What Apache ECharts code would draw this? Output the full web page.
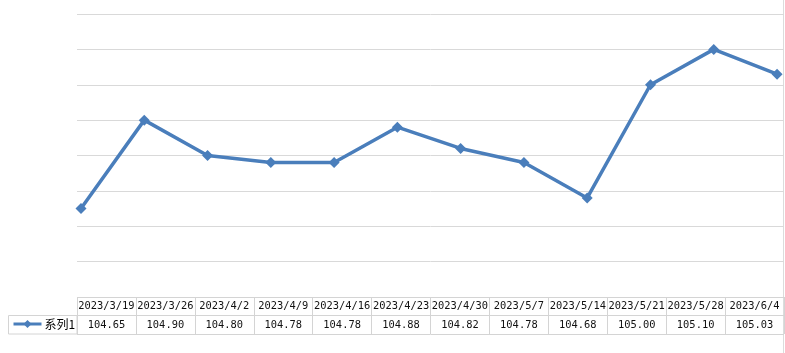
<!DOCTYPE html>
<html>
<head>
<meta charset="utf-8">
<script src="https://cdn.jsdelivr.net/npm/echarts@6/dist/echarts.min.js"></script>
<style>
html, body { margin: 0; padding: 0; background: #fff; }
#chart { width: 785px; height: 353px; }
</style>
</head>
<body>
<div id="chart"></div>
<script>
// weekly values
var dates = ['2023/3/19','2023/3/26','2023/4/2','2023/4/9','2023/4/16','2023/4/23',
             '2023/4/30','2023/5/7','2023/5/14','2023/5/21','2023/5/28','2023/6/4'];
var values = [104.65, 104.90, 104.80, 104.78, 104.78, 104.88, 104.82, 104.78, 104.68, 105.00, 105.10, 105.03];
var seriesName = '系列1';

var blue = '#4a7ebb';
var cellLine = '#d4d4d4';
var tableFont = 'DejaVu Sans Mono';

var chart = echarts.init(document.getElementById('chart'));

var points = values.map(function (v, i) { return [i, v]; });

var option = {
    animation: false,
    grid: [
        {left: 77, right: 1, top: 14, bottom: 56},
        {left: 77, right: 1, top: 297, height: 37}
    ],
    legend: {
        data: [seriesName],
        left: 12,
        top: 318,
        padding: 0,
        itemWidth: 28,
        itemHeight: 10,
        itemGap: 3,
        lineStyle: {width: 3},
        textStyle: {fontFamily: 'Noto Sans CJK SC', fontSize: 12, color: '#000', padding: [0, 0, 0, -2]}
    },
    xAxis: [
        {
            type: 'value', gridIndex: 0,
            min: -0.063, max: 11.11,
            show: false
        },
        {
            type: 'category', gridIndex: 1, position: 'top',
            data: dates, boundaryGap: true,
            axisLine: {show: false}, axisTick: {show: false},
            axisLabel: {inside: true, interval: 0, margin: 4, fontFamily: tableFont, fontSize: 10.4, color: '#111'},
            splitLine: {show: true, lineStyle: {color: cellLine, width: 1}}
        },
        {
            type: 'category', gridIndex: 1, position: 'bottom',
            data: values.map(function (v) { return v.toFixed(2); }), boundaryGap: true,
            axisLine: {show: false}, axisTick: {show: false},
            axisLabel: {inside: true, interval: 0, margin: 4, fontFamily: tableFont, fontSize: 10.4, color: '#111'},
            splitLine: {show: false}
        }
    ],
    yAxis: [
        {
            type: 'value', gridIndex: 0,
            min: 104.4, max: 105.2, interval: 0.1,
            axisLabel: {show: false}, axisLine: {show: false}, axisTick: {show: false},
            splitLine: {lineStyle: {color: '#d9d9d9', width: 1}}
        },
        {
            type: 'value', gridIndex: 1,
            min: 0, max: 2, interval: 1,
            axisLabel: {show: false}, axisLine: {show: false}, axisTick: {show: false},
            splitLine: {lineStyle: {color: cellLine, width: 1}}
        }
    ],
    series: [
        {
            name: seriesName,
            type: 'line',
            xAxisIndex: 0, yAxisIndex: 0,
            data: points,
            symbol: 'diamond',
            symbolSize: 11,
            lineStyle: {color: blue, width: 3.5},
            itemStyle: {color: blue}
        }
    ],
    graphic: [
        {
            type: 'rect', silent: true,
            shape: {x: 8.5, y: 315.5, width: 68.5, height: 18.5},
            style: {fill: 'none', stroke: cellLine, lineWidth: 1}
        },
        {
            type: 'line', silent: true,
            shape: {x1: 783.5, y1: 0, x2: 783.5, y2: 353},
            style: {stroke: '#dcdcdc', lineWidth: 1}
        }
    ]
};

chart.setOption(option);
</script>
</body>
</html>
